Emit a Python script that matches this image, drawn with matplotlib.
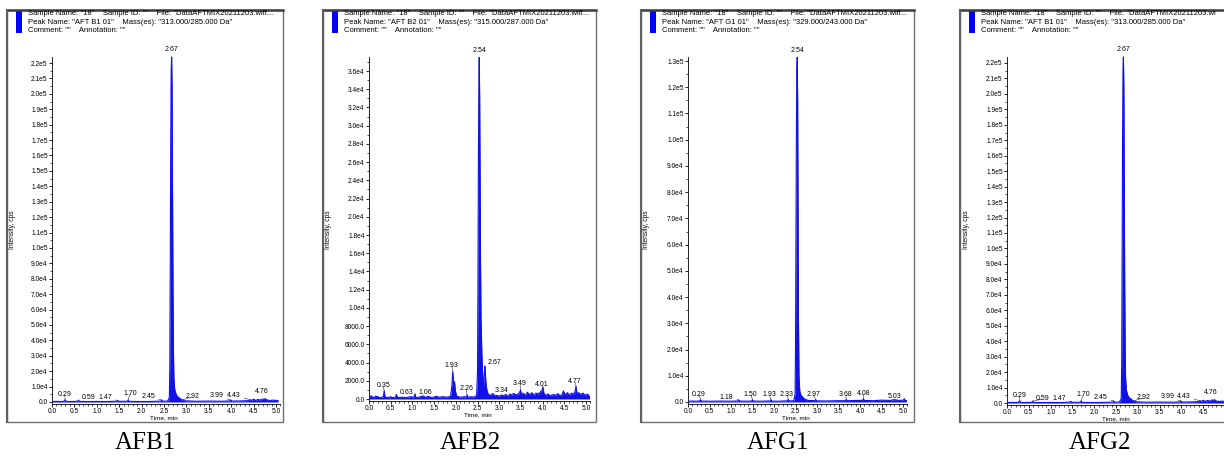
import numpy as np
import matplotlib.pyplot as plt
from matplotlib.patches import Rectangle
from matplotlib.lines import Line2D
from matplotlib.ticker import MultipleLocator, FuncFormatter

W, H = 1224, 462

# ---- data (time in min, intensity in cps) ----
b1_t = [0.00, 0.10, 0.20, 0.27, 0.29, 0.31, 0.40, 0.50, 0.57, 0.59, 0.61, 0.80, 1.00, 1.20,
        1.45, 1.47, 1.49, 1.68, 1.70, 1.72, 2.00, 2.20, 2.43, 2.45, 2.47, 2.58, 2.62, 2.63,
        2.64, 2.65, 2.66, 2.67, 2.68, 2.69, 2.70, 2.71, 2.72, 2.74, 2.77, 2.80, 2.85, 2.90,
        2.92, 2.95, 3.20, 3.50, 3.80, 3.97, 3.99, 4.01, 4.20, 4.41, 4.43, 4.45, 4.50, 4.55,
        4.60, 4.65, 4.70, 4.74, 4.76, 4.78, 4.85, 4.95, 5.05]
b1_y = [300, 400, 300, 500, 1500, 400, 300, 350, 500, 1200, 400, 300, 350, 300,
        500, 1000, 400, 500, 1300, 400, 300, 350, 600, 1300, 500, 600, 3000, 25000,
        90000, 170000, 215000, 224000, 205000, 140000, 75000, 35000, 16000, 8000, 5000, 3500, 2500, 1200,
        1500, 800, 500, 600, 500, 700, 1300, 600, 700, 900, 1500, 900, 1800, 1000,
        1700, 1200, 2000, 1600, 2200, 1500, 1000, 1200, 800]

b2_t = [0.00, 0.05, 0.10, 0.15, 0.20, 0.25, 0.30, 0.33, 0.35, 0.37, 0.42, 0.50, 0.55, 0.61,
        0.63, 0.66, 0.75, 0.85, 0.95, 1.04, 1.06, 1.08, 1.15, 1.25, 1.30, 1.35, 1.45, 1.55,
        1.60, 1.70, 1.80, 1.88, 1.91, 1.93, 1.95, 1.97, 1.99, 2.02, 2.10, 2.20, 2.24, 2.26,
        2.28, 2.35, 2.42, 2.48, 2.50, 2.51, 2.52, 2.53, 2.54, 2.55, 2.56, 2.57, 2.58, 2.60,
        2.62, 2.64, 2.66, 2.67, 2.68, 2.70, 2.72, 2.75, 2.80, 2.85, 2.90, 2.95, 3.00, 3.05,
        3.10, 3.15, 3.20, 3.25, 3.30, 3.34, 3.38, 3.42, 3.47, 3.49, 3.51, 3.55, 3.60, 3.65,
        3.70, 3.75, 3.80, 3.85, 3.90, 3.95, 3.99, 4.01, 4.03, 4.08, 4.12, 4.18, 4.25, 4.30,
        4.35, 4.40, 4.45, 4.48, 4.52, 4.57, 4.62, 4.67, 4.72, 4.75, 4.77, 4.79, 4.83, 4.88,
        4.93, 4.98, 5.03, 5.08]
b2_y = [200, 350, 150, 300, 250, 150, 200, 250, 900, 200, 150, 250, 150, 200,
        500, 150, 200, 150, 250, 200, 550, 150, 200, 350, 150, 300, 150, 300,
        200, 250, 200, 300, 1500, 3000, 1800, 1900, 900, 300, 200, 250, 200, 450,
        200, 250, 200, 400, 3000, 12000, 25000, 34000, 37500, 33000, 24000, 15000, 9000, 5000,
        2500, 1500, 3000, 3600, 2800, 1500, 900, 500, 400, 600, 350, 400, 300, 450,
        350, 500, 300, 550, 400, 600, 450, 500, 700, 1000, 500, 650, 400, 750,
        450, 700, 400, 650, 550, 800, 1000, 1300, 600, 400, 550, 350, 500, 400,
        600, 350, 500, 900, 450, 700, 400, 650, 500, 900, 1400, 600, 700, 500,
        650, 400, 550, 300]

g1_t = [0.00, 0.10, 0.20, 0.27, 0.29, 0.31, 0.50, 0.80, 1.00, 1.16, 1.18, 1.20, 1.40, 1.48,
        1.50, 1.52, 1.70, 1.91, 1.93, 1.95, 2.10, 2.31, 2.33, 2.35, 2.46, 2.49, 2.50, 2.51,
        2.52, 2.53, 2.54, 2.55, 2.56, 2.57, 2.58, 2.60, 2.63, 2.67, 2.72, 2.80, 2.95, 2.97,
        2.99, 3.20, 3.50, 3.66, 3.68, 3.70, 3.90, 4.06, 4.08, 4.10, 4.30, 4.50, 4.70, 4.80,
        4.90, 5.01, 5.03, 5.05, 5.08]
g1_y = [300, 350, 300, 400, 900, 350, 300, 350, 300, 400, 800, 350, 300, 400,
        900, 350, 300, 400, 900, 350, 300, 450, 1000, 400, 500, 3000, 20000, 60000,
        100000, 125000, 131500, 115000, 70000, 30000, 10000, 4000, 2500, 1800, 1000, 600, 500, 900,
        450, 400, 500, 500, 1000, 500, 600, 600, 1200, 600, 500, 700, 600, 900,
        600, 700, 1200, 600, 500]

# peak labels: text, peak time, peak height, text x, text y
b1_labels = [("2.67", 2.67, 224000, 2.67, 228500), ("0.29", 0.29, 1500, 0.29, 5000),
             ("0.59", 0.59, 1200, 0.81, 2600), ("1.47", 1.47, 1000, 1.19, 2600),
             ("1.70", 1.70, 1300, 1.74, 5200), ("2.45", 2.45, 1300, 2.15, 3250),
             ("2.92", 2.92, 1500, 3.13, 3250), ("3.99", 3.99, 1300, 3.68, 3900),
             ("4.43", 4.43, 1500, 4.06, 3900), ("4.76", 4.76, 2200, 4.68, 7100)]
b2_labels = [("2.54", 2.54, 37500, 2.54, 38300), ("0.35", 0.35, 900, 0.33, 1430),
             ("0.63", 0.63, 500, 0.87, 660), ("1.06", 1.06, 550, 1.29, 660),
             ("1.93", 1.93, 3000, 1.91, 3660), ("2.26", 2.26, 450, 2.24, 1100),
             ("2.67", 2.67, 3600, 2.90, 3990), ("3.34", 3.34, 600, 3.06, 910),
             ("3.49", 3.49, 1000, 3.48, 1650), ("4.01", 4.01, 1300, 3.99, 1540),
             ("4.77", 4.77, 1400, 4.75, 1870)]
g1_labels = [("2.54", 2.54, 131500, 2.54, 134000), ("0.29", 0.29, 900, 0.26, 2900),
             ("1.18", 1.18, 800, 0.90, 1640), ("1.50", 1.50, 900, 1.46, 2900),
             ("1.93", 1.93, 900, 1.89, 2900), ("2.33", 2.33, 1000, 2.30, 2900),
             ("2.97", 2.97, 900, 2.91, 2900), ("3.68", 3.68, 1000, 3.67, 2900),
             ("4.08", 4.08, 1200, 4.08, 3200), ("5.03", 5.03, 1200, 4.80, 2000)]

peak_names = ['"AFT B1 01"', '"AFT B2 01"', '"AFT G1 01"', '"AFT B1 01"']
masses = ['"313.000/285.000 Da"', '"315.000/287.000 Da"', '"329.000/243.000 Da"', '"313.000/285.000 Da"']
captions = ["AFB1", "AFB2", "AFG1", "AFG2"]

# ---- layout (pixels) ----
panel_left = [7, 323, 641, 960]
panel_right = [283, 596, 914, 1232]
x0_px = [52, 369, 688, 1007]
x5_px = [276, 586, 903, 1225]
y0_px = [402, 399, 402, 403]
ytick_top_px = [63, 71, 61, 63]
ytick_top_val = [2.2e5, 3.6e4, 1.3e5, 2.2e5]
ymaj = [1e4, 2000, 1e4, 1e4]
cap_x = [145, 470, 778, 1100]

traces = [(b1_t, b1_y, b1_labels), (b2_t, b2_y, b2_labels),
          (g1_t, g1_y, g1_labels), (b1_t, b1_y, b1_labels)]

plt.rcParams['font.family'] = ['Liberation Sans', 'DejaVu Sans']
fig = plt.figure(figsize=(W / 100, H / 100), dpi=100)
fig.patch.set_facecolor('white')


def fx(x):
    return x / W


def fy(y):
    return 1 - y / H


def fmt(v, pos):
    if abs(v) < 1:
        return "0.0"
    if v < 1e4:
        return "%.1f" % v
    e = int(np.floor(np.log10(v)))
    return "%.1fe%d" % (v / 10 ** e, e)


blue = '#1010e8'
for i in range(4):
    L = panel_left[i]
    R = panel_right[i]
    t, y, labs = traces[i]

    # panel frame
    fig.add_artist(Rectangle((fx(L), fy(422)), fx(R) - fx(L), fy(10) - fy(422),
                             transform=fig.transFigure, fill=False, ec='#707070', lw=1.0))
    fig.add_artist(Line2D([fx(L), fx(R)], [fy(9.5), fy(9.5)], transform=fig.transFigure,
                          color='#404040', lw=1.8))
    fig.add_artist(Line2D([fx(L), fx(L)], [fy(9.5), fy(422)], transform=fig.transFigure,
                          color='#606060', lw=1.5))

    # header
    fig.add_artist(Rectangle((fx(L + 9), fy(33)), fx(6), fy(10) - fy(33),
                             transform=fig.transFigure, color='#0000ff', lw=0))
    tx = fx(L + 21)
    line1 = 'Sample Name: "18"    Sample ID: ""    File: "DataAFTMIX20211203.wiff...'
    if i == 3:
        line1 = 'Sample Name: "18"    Sample ID: ""    File: "DataAFTMIX20211203.wi'
    fig.text(tx, fy(13.5), line1, fontsize=5.5, va='center', ha='left')
    fig.text(tx, fy(22.5), 'Peak Name: %s    Mass(es): %s' % (peak_names[i], masses[i]),
             fontsize=5.5, va='center', ha='left')
    fig.text(tx, fy(31), 'Comment: ""    Annotation: ""', fontsize=5.5, va='center', ha='left')

    # axes placement
    ppm = (x5_px[i] - x0_px[i]) / 5.0
    xmax = 5.1
    cps_per_px = ytick_top_val[i] / (y0_px[i] - ytick_top_px[i])
    ytop = (y0_px[i] - 57) * cps_per_px
    ybot = -1.5 * cps_per_px
    ax_left = x0_px[i]
    ax_w = ppm * xmax
    ax_bot = y0_px[i] + 1.5
    ax_top = 57
    ax = fig.add_axes([fx(ax_left), fy(ax_bot), ax_w / W, (ax_bot - ax_top) / H])
    ax.set_facecolor('none')

    ax.plot(t, y, color=blue, lw=0.8, zorder=3)
    ax.fill_between(t, 0, y, color=blue, lw=0, zorder=3)
    ax.set_xlim(0, xmax)
    ax.set_ylim(ybot, ytop)

    for s in ['top', 'right']:
        ax.spines[s].set_visible(False)
    for s in ['left', 'bottom']:
        ax.spines[s].set_linewidth(0.6)
    ax.xaxis.set_major_locator(MultipleLocator(0.5))
    ax.xaxis.set_minor_locator(MultipleLocator(0.1))
    ax.yaxis.set_major_locator(MultipleLocator(ymaj[i]))
    ax.yaxis.set_minor_locator(MultipleLocator(ymaj[i] / 2))
    ax.xaxis.set_major_formatter(FuncFormatter(lambda v, p: "%.1f" % v))
    ax.yaxis.set_major_formatter(FuncFormatter(fmt))
    ax.tick_params(which='major', direction='out', length=2.3, width=0.6, labelsize=4.8, pad=0.8)
    ax.tick_params(which='minor', direction='out', length=1.3, width=0.5)
    ax.set_yticks([v for v in ax.get_yticks() if 0 <= v <= ytick_top_val[i] + 1])
    if i == 3:
        ax.set_xticks([0.0, 0.5, 1.0, 1.5, 2.0, 2.5, 3.0, 3.5, 4.0, 4.5])

    fig.text(fx(x0_px[i] + ppm * 2.5), fy(y0_px[i] + 15.5), "Time, min", fontsize=4.6,
             ha='center', va='center')
    fig.text(fx(L + 6), fy(230), "Intensity, cps", rotation=90, fontsize=4.8,
             ha='center', va='center')

    for txt, pt, ph, lx, ly in labs:
        ax.annotate(txt, xy=(pt, ph), xytext=(lx, ly), ha='center', va='center',
                    fontsize=5, annotation_clip=False,
                    arrowprops=dict(arrowstyle='-', lw=0.4, color='#303030',
                                    shrinkA=0.5, shrinkB=0))

    fig.text(fx(cap_x[i]), fy(443), captions[i], fontsize=18, family='Liberation Serif',
             ha='center', va='center')

fig.savefig("out.png", dpi=100, facecolor='white')
